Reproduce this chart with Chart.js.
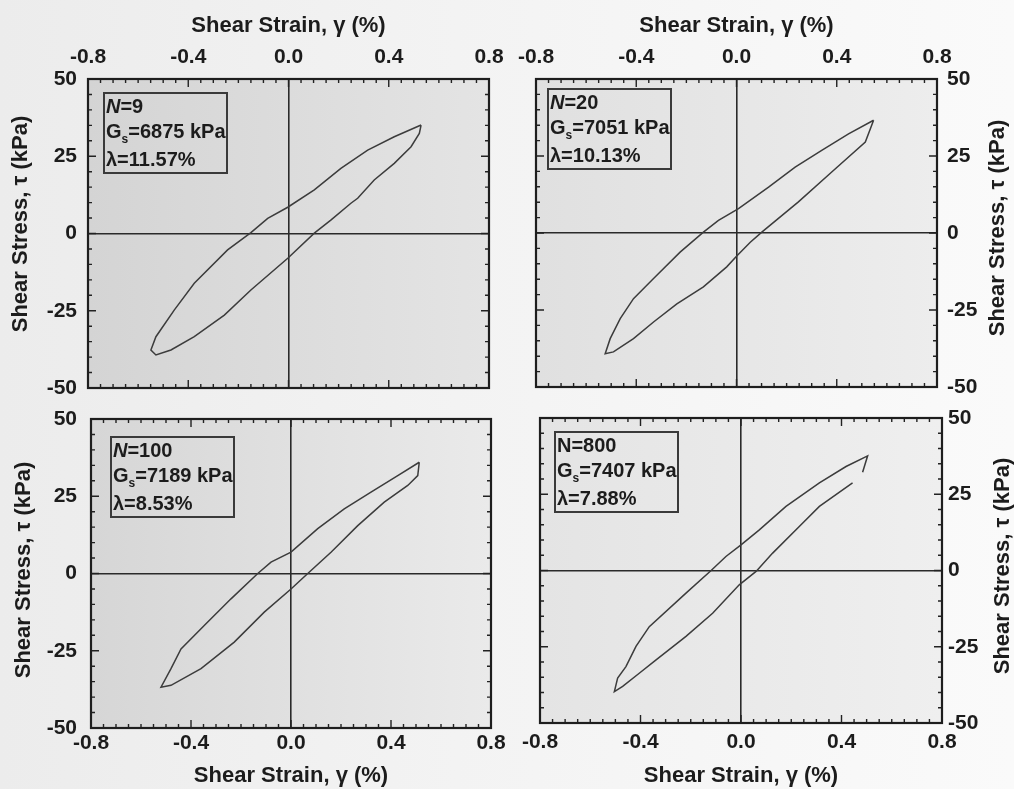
<!DOCTYPE html>
<html>
<head>
<meta charset="utf-8">
<script src="https://cdn.jsdelivr.net/npm/chart.js@4.4.0/dist/chart.umd.min.js"></script>
<style>
html,body{margin:0;padding:0;}
body{width:1014px;height:789px;overflow:hidden;position:relative;
  background:linear-gradient(90deg,#ececec 0%,#f3f3f3 45%,#fafafa 100%);}
canvas{position:absolute;left:0;top:0;}
</style>
</head>
<body>
<canvas id="c1" width="1014" height="789"></canvas>
<canvas id="c2" width="1014" height="789"></canvas>
<canvas id="c3" width="1014" height="789"></canvas>
<canvas id="c4" width="1014" height="789"></canvas>
<script>
// ---------------- data ----------------
const xTickLabels = ['-0.8', '-0.4', '0.0', '0.4', '0.8'];
const yTickLabels = ['-50', '-25', '0', '25', '50'];
const xAxisTitle = 'Shear Strain, \u03B3 (%)';
const yAxisTitle = 'Shear Stress, \u03C4 (kPa)';

const cycleCounts = [9, 20, 100, 800];
const secantModuli = [6875, 7051, 7189, 7407];   // kPa
const dampingRatios = [11.57, 10.13, 8.53, 7.88]; // %

// N = 9
const strainN9 = [0.529, 0.422, 0.316, 0.209, 0.103, -0.003, -0.083, -0.150, -0.243, -0.376, -0.456, -0.529, -0.549, -0.529,
                  -0.469, -0.376, -0.256, -0.150, -0.003, 0.103, 0.170, 0.249, 0.276, 0.342, 0.422, 0.489, 0.522, 0.529];
const stressN9 = [35.1, 31.3, 27.0, 21.1, 14.1, 8.5, 4.9, 0.3, -5.3, -16.1, -24.8, -33.4, -37.7, -39.3,
                  -37.7, -33.4, -26.4, -18.3, -8.0, 0.1, 4.4, 9.8, 11.4, 17.3, 22.7, 28.1, 32.4, 35.1];

// N = 20
const strainN20 = [0.547, 0.447, 0.340, 0.234, 0.128, 0.008, -0.072, -0.132, -0.225, -0.331, -0.411, -0.464, -0.504, -0.524,
                   -0.491, -0.411, -0.331, -0.238, -0.132, -0.039, 0.001, 0.055, 0.101, 0.247, 0.380, 0.514, 0.547];
const stressN20 = [36.6, 32.2, 26.8, 21.4, 14.9, 7.9, 4.1, 0.3, -6.2, -14.8, -21.3, -27.8, -34.3, -39.2,
                   -38.6, -34.3, -28.9, -23.0, -17.5, -11.0, -7.5, -3.0, 0.3, 10.1, 19.8, 29.5, 36.6];

// N = 100
const strainN100 = [0.513, 0.427, 0.320, 0.213, 0.107, 0.000, -0.080, -0.133, -0.240, -0.347, -0.440, -0.480, -0.520,
                    -0.480, -0.360, -0.227, -0.107, 0.000, 0.067, 0.160, 0.267, 0.373, 0.467, 0.507, 0.513];
const stressN100 = [36.0, 31.7, 26.3, 20.9, 14.5, 6.9, 3.7, 0.0, -8.2, -16.8, -24.4, -30.8, -36.8,
                    -36.2, -30.8, -22.2, -12.5, -5.0, 0.0, 6.9, 15.5, 23.1, 28.5, 31.7, 36.0];

// N = 800
const strainN800 = [0.484, 0.504, 0.418, 0.312, 0.179, 0.073, 0.000, -0.060, -0.119, -0.219, -0.365, -0.418, -0.458, -0.491, -0.504,
                    -0.471, -0.405, -0.338, -0.219, -0.113, -0.007, 0.060, 0.126, 0.232, 0.312, 0.444];
const stressN800 = [32.2, 37.6, 34.1, 28.7, 21.0, 13.3, 8.4, 4.6, 0.0, -7.4, -18.4, -24.9, -31.5, -35.3, -39.7,
                    -38.0, -33.7, -29.3, -21.6, -14.0, -4.7, -0.3, 5.7, 14.4, 21.0, 28.7];

// ---------------- layout / style ----------------
const W = 1014, H = 789;
const FONT = "'Liberation Sans', Arial, Helvetica, sans-serif";
const INK = '#1c1c1c';

const panels = [
  {id:'c1', plot:{l:88, t:79, r:489, b:388}, xPos:'top', yPos:'left',
   strain:strainN9, stress:stressN9, bg:['#d4d4d4','#e4e4e4'], box:{dx:16, dy:14}, italicN:true,
   xTickPad:9, yTickPad:11, xTitlePad:13, yTitleAt:{x:21, y:224}},
  {id:'c2', plot:{l:536, t:79, r:937, b:387}, xPos:'top', yPos:'right',
   strain:strainN20, stress:stressN20, bg:['#e0e0e0','#ededed'], box:{dx:12, dy:10}, italicN:true,
   xTickPad:9, yTickPad:10, xTitlePad:13, yTitleAt:{x:998, y:228}},
  {id:'c3', plot:{l:91, t:419, r:491, b:728}, xPos:'bottom', yPos:'left',
   strain:strainN100, stress:stressN100, bg:['#d6d6d6','#eaeaea'], box:{dx:20, dy:18}, italicN:true,
   xTickPad:3, yTickPad:14, xTitlePad:0, yTitleAt:{x:24, y:570}},
  {id:'c4', plot:{l:540, t:418, r:942, b:723}, xPos:'bottom', yPos:'right',
   strain:strainN800, stress:stressN800, bg:['#e4e4e4','#efefef'], box:{dx:15, dy:14}, italicN:false,
   xTickPad:7, yTickPad:6, xTitlePad:0, yTitleAt:{x:1003, y:566}}
];

function makePlugins(p, idx) {
  return [{
    id: 'plotBg',
    beforeDraw(chart) {
      const {ctx, chartArea: a} = chart;
      const g = ctx.createLinearGradient(a.left, 0, a.right, 0);
      g.addColorStop(0, p.bg[0]);
      g.addColorStop(1, p.bg[1]);
      ctx.save();
      ctx.fillStyle = g;
      ctx.fillRect(a.left, a.top, a.right - a.left, a.bottom - a.top);
      ctx.restore();
    }
  }, {
    id: 'frameTicks',
    afterDatasetsDraw(chart) {
      const {ctx, chartArea: a, scales} = chart;
      const xs = scales.x, ys = scales.y;
      ctx.save();
      ctx.strokeStyle = '#222';
      ctx.lineWidth = 1.4;
      ctx.beginPath();
      for (let i = 0; i <= 32; i++) {
        const v = -0.8 + i * 0.05;
        const px = xs.getPixelForValue(v);
        const len = (i % 8 === 0) ? 8 : 4;
        ctx.moveTo(px, a.top); ctx.lineTo(px, a.top + len);
        ctx.moveTo(px, a.bottom); ctx.lineTo(px, a.bottom - len);
      }
      for (let i = 0; i <= 20; i++) {
        const v = -50 + i * 5;
        const py = ys.getPixelForValue(v);
        const len = (i % 5 === 0) ? 8 : 4;
        ctx.moveTo(a.left, py); ctx.lineTo(a.left + len, py);
        ctx.moveTo(a.right, py); ctx.lineTo(a.right - len, py);
      }
      ctx.stroke();
      ctx.lineWidth = 2.2;
      ctx.strokeStyle = '#1e1e1e';
      ctx.strokeRect(a.left, a.top, a.right - a.left, a.bottom - a.top);
      ctx.restore();
    }
  }, {
    id: 'yTitleAndBox',
    afterDraw(chart) {
      const {ctx, chartArea: a} = chart;
      // vertical axis title (reads bottom-to-top on both sides)
      ctx.save();
      ctx.translate(p.yTitleAt.x, p.yTitleAt.y);
      ctx.rotate(-Math.PI / 2);
      ctx.font = 'bold 22px ' + FONT;
      ctx.fillStyle = INK;
      ctx.textAlign = 'center';
      ctx.textBaseline = 'middle';
      ctx.fillText(yAxisTitle, 0, 0);
      ctx.restore();

      // information box
      const bx = a.left + p.box.dx, by = a.top + p.box.dy, bw = 123, bh = 80;
      ctx.save();
      ctx.strokeStyle = '#3a3a3a';
      ctx.lineWidth = 2;
      ctx.strokeRect(bx, by, bw, bh);
      ctx.fillStyle = INK;
      ctx.textBaseline = 'middle';
      ctx.textAlign = 'left';
      const fs = 20;
      let x = bx + 2;
      ctx.font = (p.italicN ? 'italic ' : '') + 'bold ' + fs + 'px ' + FONT;
      ctx.fillText('N', x, by + 14);
      x += ctx.measureText('N').width;
      ctx.font = 'bold ' + fs + 'px ' + FONT;
      ctx.fillText('=' + cycleCounts[idx], x, by + 14);
      x = bx + 2;
      ctx.fillText('G', x, by + 39);
      x += ctx.measureText('G').width;
      ctx.font = 'bold 12px ' + FONT;
      ctx.fillText('s', x, by + 47);
      x += ctx.measureText('s').width;
      ctx.font = 'bold ' + fs + 'px ' + FONT;
      ctx.fillText('=' + secantModuli[idx] + ' kPa', x, by + 39);
      x = bx + 2;
      ctx.fillText('\u03BB=' + dampingRatios[idx].toFixed(2) + '%', x, by + 67);
      ctx.restore();
    }
  }];
}

panels.forEach((p, idx) => {
  const tickFont = {family: FONT, size: 21, weight: 'bold'};
  const titleFont = {family: FONT, size: 22, weight: 'bold'};
  const zeroGrid = c => (c.tick && Math.abs(c.tick.value) < 1e-9) ? '#2a2a2a' : 'rgba(0,0,0,0)';
  const points = p.strain.map((s, i) => ({x: s, y: p.stress[i]}));
  new Chart(document.getElementById(p.id), {
    type: 'scatter',
    data: {
      datasets: [{
        data: points,
        showLine: true,
        pointRadius: 0,
        borderColor: '#3c3c3c',
        borderWidth: 1.5,
        tension: 0,
        fill: false
      }]
    },
    options: {
      responsive: false,
      animation: false,
      events: [],
      layout: {
        padding: {
          left: p.yPos === 'left' ? 0 : p.plot.l,
          right: p.yPos === 'right' ? 0 : W - p.plot.r,
          top: p.xPos === 'top' ? 0 : p.plot.t,
          bottom: p.xPos === 'bottom' ? 0 : H - p.plot.b
        }
      },
      plugins: {legend: {display: false}, tooltip: {enabled: false}},
      scales: {
        x: {
          type: 'linear',
          position: p.xPos,
          min: -0.8, max: 0.8,
          ticks: {
            stepSize: 0.4, autoSkip: false, maxRotation: 0, minRotation: 0,
            padding: p.xTickPad, font: tickFont, color: INK,
            callback: (v, i) => xTickLabels[i]
          },
          grid: {drawTicks: false, lineWidth: 1.6, color: zeroGrid},
          border: {display: false},
          title: {display: true, text: xAxisTitle, font: titleFont, color: INK,
                  padding: {top: p.xTitlePad, bottom: p.xTitlePad}},
          afterFit: s => { s.height = p.xPos === 'top' ? p.plot.t : H - p.plot.b; }
        },
        y: {
          type: 'linear',
          position: p.yPos,
          min: -50, max: 50,
          ticks: {
            stepSize: 25, autoSkip: false,
            padding: p.yTickPad, font: tickFont, color: INK,
            callback: (v, i) => yTickLabels[i]
          },
          grid: {drawTicks: false, lineWidth: 1.6, color: zeroGrid},
          border: {display: false},
          title: {display: false, text: yAxisTitle},
          afterFit: s => { s.width = p.yPos === 'left' ? p.plot.l : W - p.plot.r; }
        }
      }
    },
    plugins: makePlugins(p, idx)
  });
});
</script>
</body>
</html>
